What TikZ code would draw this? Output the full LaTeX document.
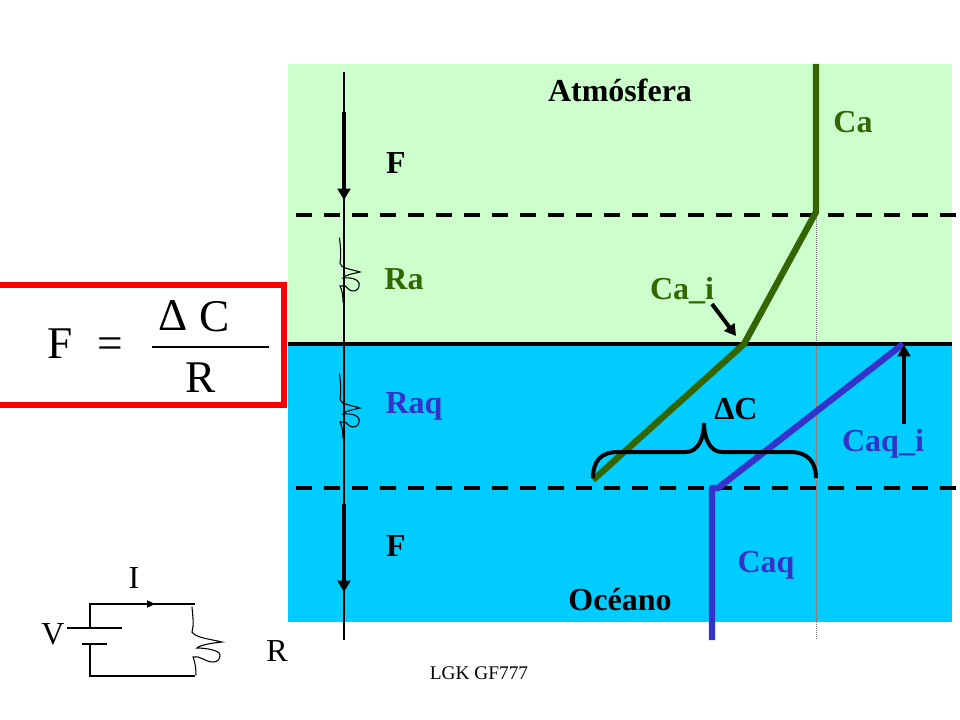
\documentclass[tikz,border=0pt]{standalone}
\usepackage{fontspec}
\setmainfont{Liberation Serif}
\usetikzlibrary{arrows.meta}
\definecolor{airgreen}{HTML}{CCFFCC}
\definecolor{seablue}{HTML}{00CCFF}
\definecolor{cagreen}{HTML}{336600}
\definecolor{caqblue}{HTML}{3333CC}
\tikzset{
  lbl/.style={inner sep=0pt,font=\fontsize{24}{24}\selectfont\bfseries},
  plain/.style={inner sep=0pt,font=\fontsize{24}{24}\selectfont},
  big/.style={inner sep=0pt,font=\fontsize{34}{34}\selectfont},
  dashline/.style={line width=3.2pt,dash pattern=on 12pt off 9pt},
  flux/.style={line width=3pt,-{Triangle[length=8.5pt,width=9.5pt]}},
  profile/.style={line width=4.8pt,line join=round},
  squiggle/.style={line width=0.8pt,line cap=round},
  wire/.style={line width=0.8pt}
}
\begin{document}
\begin{tikzpicture}[x=0.75pt,y=-0.75pt]
\useasboundingbox (0,0) rectangle (960,720);
\fill[airgreen] (288,64) rectangle (952,344);
\fill[seablue] (288,344) rectangle (952,622);
% named points
\coordinate (surfL) at (288,344); \coordinate (surfR) at (952,344);
\coordinate (dtopL) at (296,215); \coordinate (dtopR) at (956,215);
\coordinate (dbotL) at (296,488); \coordinate (dbotR) at (956,488);
\coordinate (axisT) at (344,72); \coordinate (axisB) at (344,640);
\coordinate (dotT) at (816.5,212); \coordinate (dotB) at (816.5,640);
\coordinate (ca0) at (816,64); \coordinate (ca1) at (816,212);
\coordinate (ca2) at (744,344); \coordinate (ca3) at (593,480);
\coordinate (cq0) at (903,344); \coordinate (cq1) at (718,488);
\coordinate (cq2) at (712,488); \coordinate (cq3) at (712,640);
\coordinate (f1a) at (344,112); \coordinate (f1b) at (344,200);
\coordinate (f2a) at (344,504); \coordinate (f2b) at (344,592);
\coordinate (ciT) at (712,304); \coordinate (ciH) at (736,336);
\coordinate (cqT) at (904,424); \coordinate (cqH) at (904,345);
\coordinate (boxA) at (-6,285); \coordinate (boxB) at (284,405);
\coordinate (fracL) at (152,347); \coordinate (fracR) at (269,347);
\draw[line width=0.5pt,black!55,dash pattern=on 0.75pt off 0.75pt] (dotT) -- (dotB);
\draw[line width=3pt] (surfL) -- (surfR);
\draw[dashline] (dtopL) -- (dtopR);
\draw[dashline] (dbotL) -- (dbotR);
\draw[line width=0.9pt] (axisT) -- (axisB);
\draw[flux] (f1a) -- (f1b);
\draw[flux] (f2a) -- (f2b);
% resistors
\foreach \dy in {0,136}{
\draw[squiggle,yshift=-0.75*\dy pt] (339.5,238) .. controls (341,250) and (341,258) .. (340,263)
 .. controls (340,268) and (350,269) .. (360,272) .. controls (352,274) and (345,275) .. (343,278)
 .. controls (350,277) and (358,279) .. (359,283) .. controls (360,288) and (357,291) .. (353,291)
 .. controls (349,291) and (347,287) .. (345,286) -- (340,286) .. controls (342,290) and (343,295) .. (343,302);
}
% profiles
\draw[profile,cagreen] (ca0) -- (ca1) -- (ca2) -- (ca3);
\draw[profile,caqblue] (cq0) -- (cq1) -- (cq2) -- (cq3);
\draw[flux] (ciT) -- (ciH);
\draw[flux] (cqT) -- (cqH);
% brace
\coordinate (brL) at (593,478); \coordinate (brM) at (704,423); \coordinate (brR) at (816,478);
\draw[line width=3pt] (brL) .. controls (593,462) and (600,452) .. (618,452)
  -- (686,452) .. controls (697,452) and (704,440) .. (brM)
  .. controls (704,440) and (711,452) .. (722,452) -- (790,452)
  .. controls (808,452) and (816,462) .. (brR);
% formula box
\draw[red,line width=4.5pt] (boxA) rectangle (boxB);
\draw[line width=1pt] (fracL) -- (fracR);
\node[big,anchor=base] (fF) at (60,358) {F};
\node[big,anchor=base] (fEq) at (110.5,358) {=};
\node[big,anchor=base] (fD) at (173,330) {Δ};
\node[big,anchor=base] (fC) at (215,331) {C};
\node[big,anchor=base] (fR) at (201,392) {R};
% labels
\node[lbl] (atm) at (620,90) {Atmósfera};
\node[lbl] (oce) at (620,600) {Océano};
\node[lbl] (f1) at (396,163) {F};
\node[lbl] (f2) at (396,546) {F};
\node[lbl,cagreen] (ra) at (404,279) {Ra};
\node[lbl,caqblue] (raq) at (414,406) {Raq};
\node[lbl,cagreen] (ca) at (853,122) {Ca};
\node[lbl,cagreen] (cai) at (682,291) {Ca\_i};
\node[lbl,caqblue] (cqi) at (883,444) {Caq\_i};
\node[lbl,caqblue] (caq) at (766,565) {Caq};
\node[lbl] (dc) at (736,409) {ΔC};
% circuit
\coordinate (w1) at (90,604); \coordinate (w2) at (195,604);
\coordinate (w3) at (90,628); \coordinate (p1) at (67,628); \coordinate (p2) at (122,628);
\coordinate (q1) at (82,644); \coordinate (q2) at (107,644);
\coordinate (w4) at (90,644); \coordinate (w5) at (90,676); \coordinate (w6) at (195,676);
\coordinate (ar) at (155,604);
\draw[wire] (w3) -- (w1) -- (w2);
\draw[wire] (p1) -- (p2);
\draw[wire] (q1) -- (q2);
\draw[wire] (w4) -- (w5) -- (w6);
\draw[wire,-{Triangle[length=6pt,width=5.5pt]}] (w1) -- (ar);
\draw[squiggle] (192,607) .. controls (193,618) and (194,625) .. (192,632)
 .. controls (196,638) and (210,639) .. (222,642) .. controls (212,643) and (200,645) .. (197,648)
 .. controls (205,648) and (220,650) .. (220,655) .. controls (220,660) and (217,662) .. (213,662)
 .. controls (205,662) and (200,655) .. (193,657) .. controls (195,662) and (196,668) .. (196,675);
\node[plain] (lI) at (134,578) {I};
\node[plain] (lV) at (53,634) {V};
\node[plain] (lR) at (277,651) {R};
\node[inner sep=0pt,font=\fontsize{14.5}{14.5}\selectfont] (foot) at (479,673) {LGK GF777};
\end{tikzpicture}
\end{document}
